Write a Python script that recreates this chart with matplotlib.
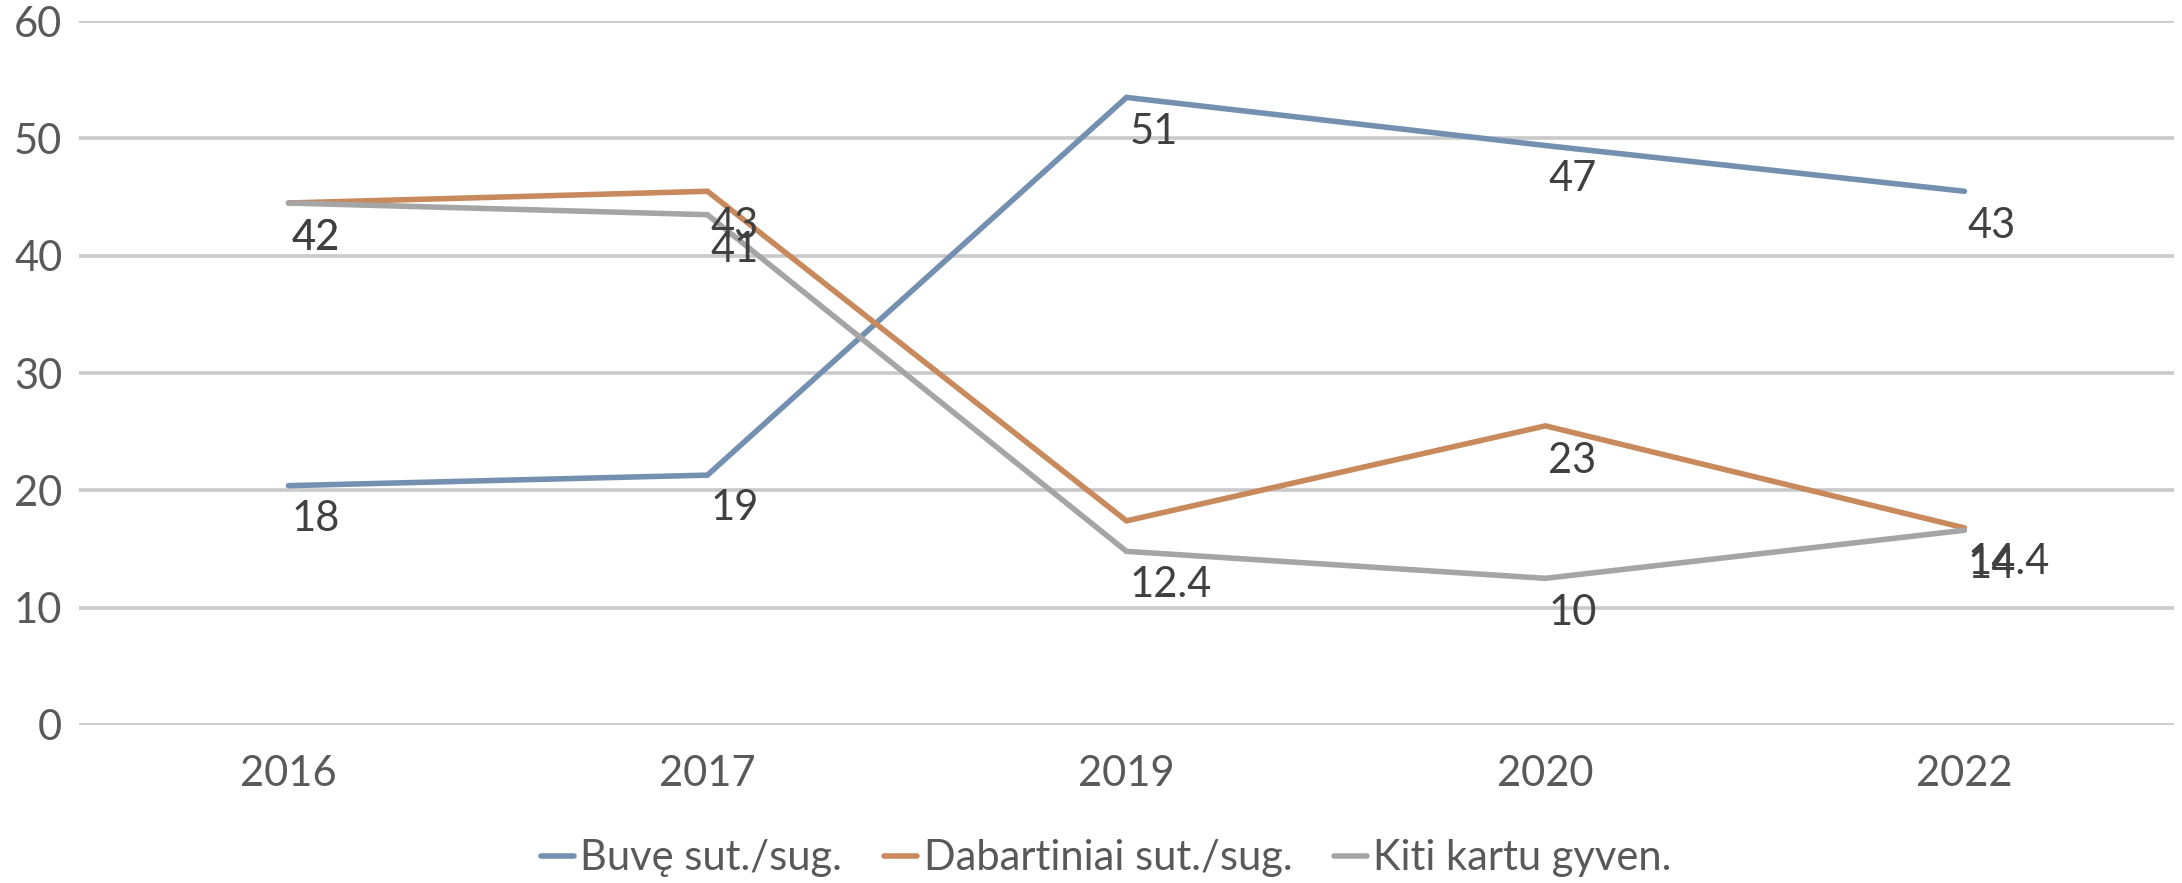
import numpy as np
import matplotlib
matplotlib.use("Agg")
import matplotlib.pyplot as plt

plt.rcParams['font.family'] = ['Lato', 'DejaVu Sans']

# Data
years = ['2016', '2017', '2019', '2020', '2022']
series_names = ['Buvę sut./sug.', 'Dabartiniai sut./sug.', 'Kiti kartu gyven.']

# line heights as drawn in the chart
buve = [20.4, 21.3, 53.5, 49.4, 45.5]
dabartiniai = [44.5, 45.5, 17.4, 25.5, 16.8]
kiti = [44.5, 43.5, 14.8, 12.5, 16.6]

# data labels printed next to points (None = not visible)
buve_lbl = [18, 19, 51, 47, 43]
dabartiniai_lbl = [42, 43, None, 23, 14]
kiti_lbl = [42, 41, 12.4, 10, 14.4]

colors = ['#7490b0', '#c8895c', '#a5a5a5']

fig = plt.figure(figsize=(21.82, 8.83), dpi=100)
ax = fig.add_axes([0.0362, 0.179, 0.9601, 0.797])

x = np.arange(len(years))
for vals, lbls, name, c in zip([buve, dabartiniai, kiti],
                                [buve_lbl, dabartiniai_lbl, kiti_lbl],
                                series_names, colors):
    ax.plot(x, vals, color=c, lw=4, label=name,
            solid_capstyle='round', solid_joinstyle='miter', zorder=3)
    for xi, lv in zip(x, lbls):
        if lv is None:
            continue
        ax.annotate(f"{lv:g}", (xi, lv), xytext=(2, -4), textcoords='offset points',
                    ha='left', va='center', fontsize=30, color='#404040', zorder=4)

ax.set_xlim(-0.5, len(years) - 0.5)
ax.set_ylim(0, 60)
ax.set_yticks(range(0, 61, 10))
ax.set_xticks(x)
ax.set_xticklabels(years)
ax.yaxis.grid(True, color='#c9c9c9', lw=2.6)
ax.set_axisbelow(True)
for s in ax.spines.values():
    s.set_visible(False)
ax.tick_params(axis='both', length=0, labelsize=30, labelcolor='#595959')
ax.tick_params(axis='y', pad=12)
ax.tick_params(axis='x', pad=22)

fig.legend(loc='center', bbox_to_anchor=(0.507, 0.028), ncol=3, frameon=False,
           fontsize=30, labelcolor='#595959', handlelength=0.8, handletextpad=0.15,
           columnspacing=1.0)

fig.savefig('out.png', dpi=100)
